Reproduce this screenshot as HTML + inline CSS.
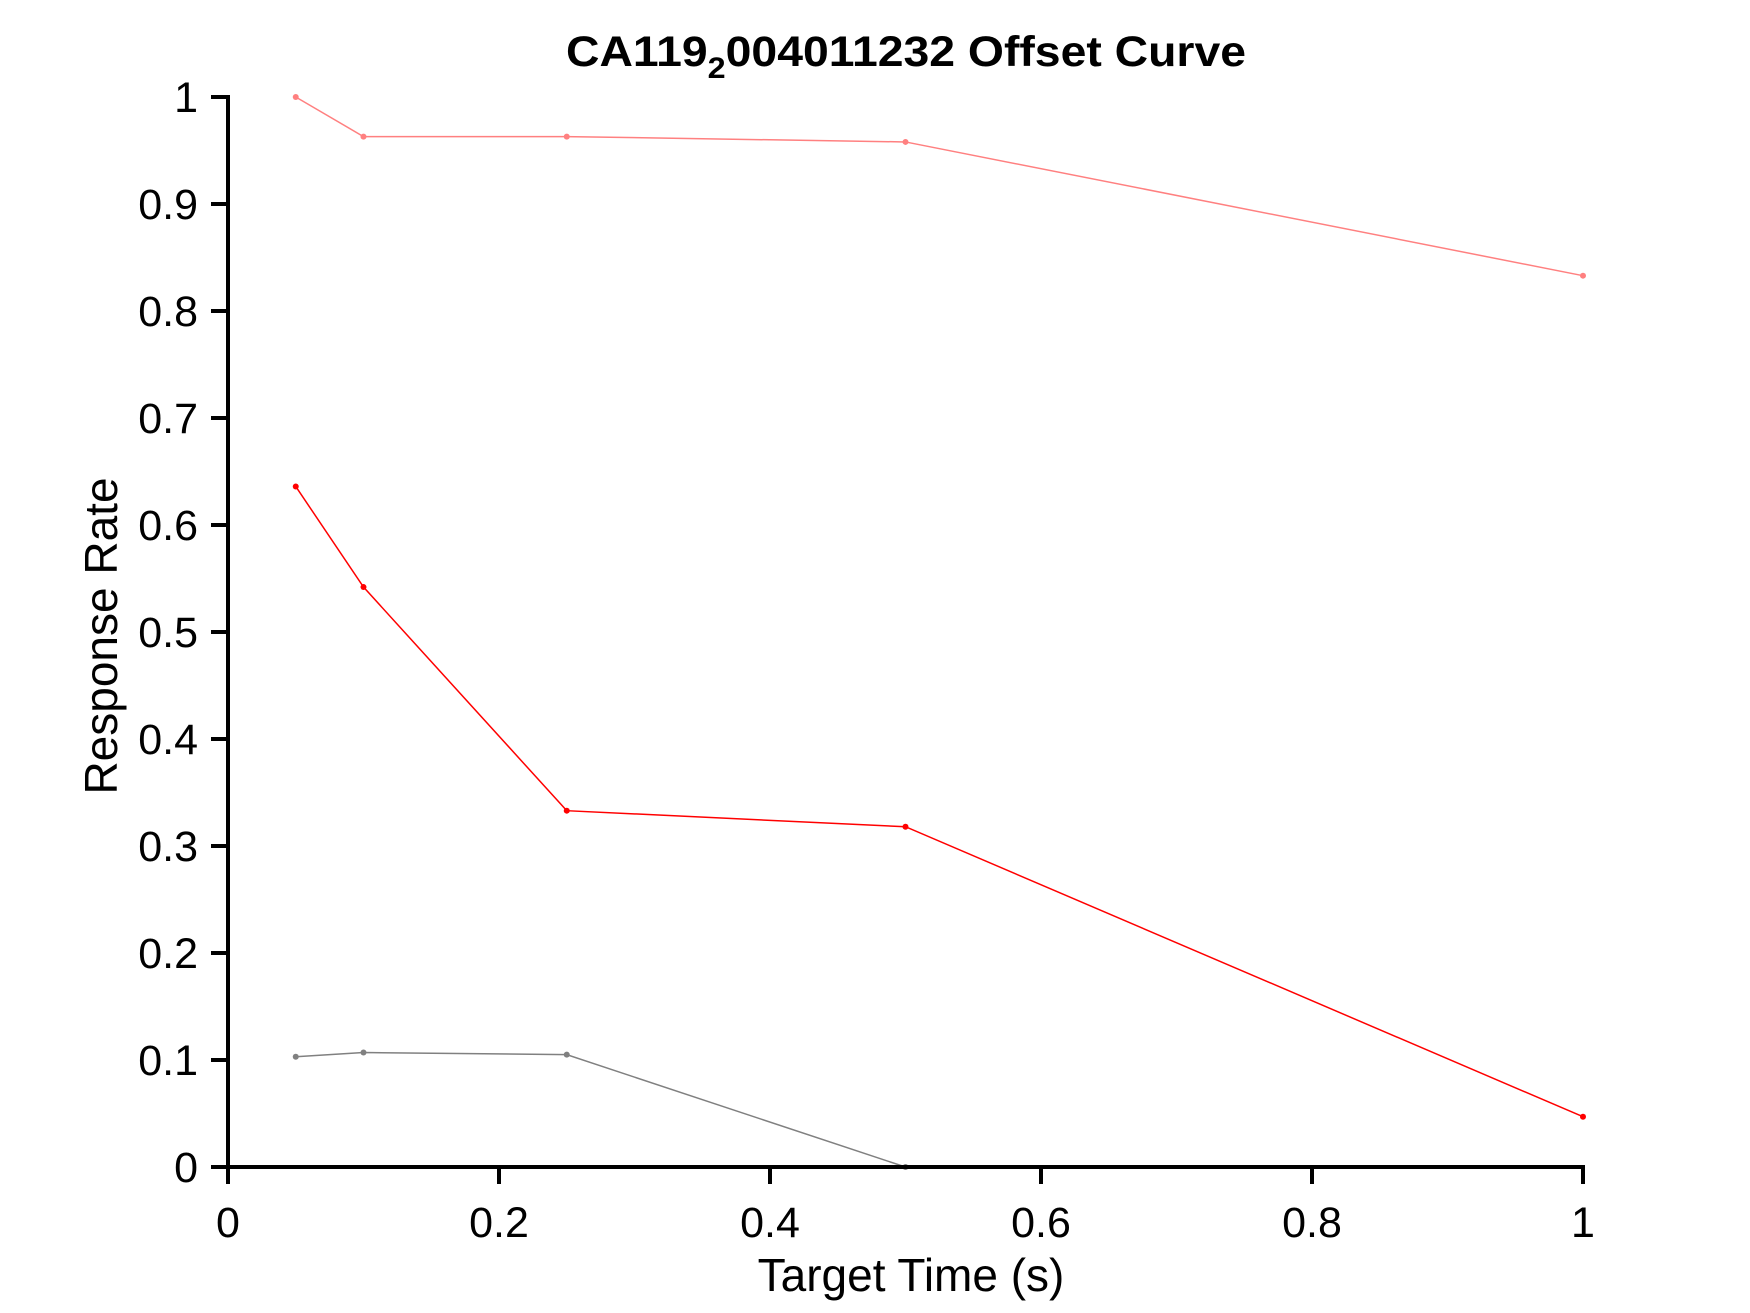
<!DOCTYPE html>
<html><head><meta charset="utf-8"><style>
html,body{margin:0;padding:0;background:#fff;}
svg{display:block;font-family:"Liberation Sans",Arial,sans-serif;}
</style></head><body>
<svg id="chart" width="1750" height="1313" viewBox="0 0 1750 1313" xmlns="http://www.w3.org/2000/svg">
<rect width="1750" height="1313" fill="#fff"/>
<text x="906" y="66" text-anchor="middle" font-size="43" font-weight="bold" textLength="680" lengthAdjust="spacingAndGlyphs">CA119<tspan dy="12" font-size="30">2</tspan><tspan dy="-12">004011232 Offset Curve</tspan></text>
<g id="plot"></g>
<text x="911" y="1291" text-anchor="middle" font-size="46">Target Time (s)</text>
<text transform="translate(117,636) rotate(-90)" text-anchor="middle" font-size="46">Response Rate</text>
</svg>
<script>
const xValues = [0.05, 0.1, 0.25, 0.5, 1.0];
const seriesPink = [1.0, 0.963, 0.963, 0.958, 0.833];
const seriesRed = [0.636, 0.542, 0.333, 0.318, 0.047];
const xValuesGray = [0.05, 0.1, 0.25, 0.5];
const seriesGray = [0.103, 0.107, 0.105, 0.0];
const xTicks = [0, 0.2, 0.4, 0.6, 0.8, 1];
const xTickLabels = ["0", "0.2", "0.4", "0.6", "0.8", "1"];
const yTicks = [0, 0.1, 0.2, 0.3, 0.4, 0.5, 0.6, 0.7, 0.8, 0.9, 1];
const yTickLabels = ["0", "0.1", "0.2", "0.3", "0.4", "0.5", "0.6", "0.7", "0.8", "0.9", "1"];

const X0 = 228, X1 = 1583, Y0 = 1167, Y1 = 97;
function sx(v) { return X0 + v * (X1 - X0); }
function sy(v) { return Y0 - v * (Y0 - Y1); }
const NS = "http://www.w3.org/2000/svg";
const g = document.getElementById("plot");
function mk(tag, attrs) {
  const e = document.createElementNS(NS, tag);
  for (const k in attrs) e.setAttribute(k, attrs[k]);
  g.appendChild(e);
  return e;
}
function drawSeries(xs, ys, color, name) {
  const pts = xs.map((x, i) => sx(x) + "," + sy(ys[i])).join(" ");
  const pl = mk("polyline", { points: pts, fill: "none", stroke: color, "stroke-width": 1.5 });
  
  
  xs.forEach((x, i) => {
    const c = mk("circle", { cx: sx(x), cy: sy(ys[i]), r: 3, fill: color });
    
    
  });
}
drawSeries(xValues, seriesPink, "#ff8080", "pink-series");
drawSeries(xValues, seriesRed, "#ff0000", "red-series");
drawSeries(xValuesGray, seriesGray, "#808080", "gray-series");

const ya = mk("line", { x1: X0, y1: Y1 - 2, x2: X0, y2: Y0 + 2, stroke: "#000", "stroke-width": 4 });


const xa = mk("line", { x1: X0 - 2, y1: Y0, x2: X1 + 2, y2: Y0, stroke: "#000", "stroke-width": 4 });



xTicks.forEach((t, i) => {
  const l = mk("line", { x1: sx(t), y1: Y0, x2: sx(t), y2: Y0 + 17, stroke: "#000", "stroke-width": 4 });
  
  
  const tx = mk("text", { x: sx(t), y: 1237, "text-anchor": "middle", "font-size": 43 });
  tx.textContent = xTickLabels[i];
  
  
});
yTicks.forEach((t, i) => {
  const l = mk("line", { x1: X0 - 17, y1: sy(t), x2: X0, y2: sy(t), stroke: "#000", "stroke-width": 4 });
  
  
  const tx = mk("text", { x: 198, y: sy(t) + 15, "text-anchor": "end", "font-size": 43 });
  tx.textContent = yTickLabels[i];
  
  
});
</script>
</body></html>
